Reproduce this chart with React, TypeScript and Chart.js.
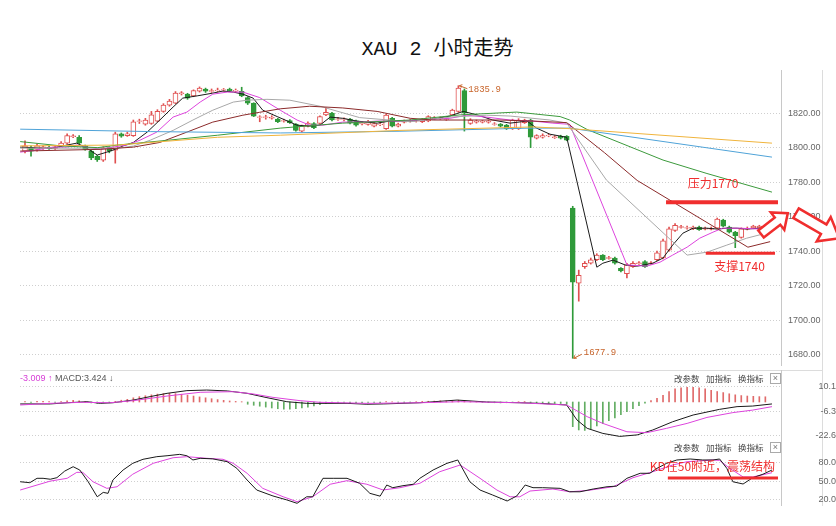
import React, { useEffect, useRef } from 'react';
import { Chart, registerables } from 'chart.js';
Chart.register(...registerables);
Chart.defaults.font.family = '"Liberation Sans", "Noto Sans CJK SC", sans-serif';

// ---------- candles (2h XAU) ----------
const OPEN = [1798,1800,1799,1800,1800.2,1799.6,1801,1802.6,1806.4,1806,1801,1798,1795,1792.8,1800,1798.5,1808,1807,1807,1815.2,1813.6,1814,1815.4,1821,1824.6,1825.8,1831.3,1831,1830,1832.7,1834,1832.6,1833,1833.3,1834,1832.8,1832.7,1829,1825.8,1817.5,1817.5,1817.1,1816.5,1815.3,1815.7,1813.6,1809.6,1812.5,1814,1814,1819,1820,1816.3,1816.3,1816.5,1815.5,1813.8,1813.5,1812.5,1813.3,1811,1817,1812.5,1814.8,1815.3,1815.3,1815,1815.5,1816.8,1816.8,1816.3,1819,1821,1833,1814,1814.8,1814.8,1814.8,1813.4,1813.6,1813,1811,1811,1814.5,1816,1805.5,1806,1806.8,1805.8,1806.7,1806.5,1765,1721.5,1731,1733,1735,1737.7,1735.8,1736,1730,1727,1731,1732.8,1734,1732.8,1735,1736,1740.6,1752,1753.8,1753.3,1753,1754,1752.8,1752.8,1753.3,1758,1754,1751,1748,1752.8,1753.5,1753.5,1753.8];
const CLOSE = [1801,1798,1801,1800.4,1799.6,1800.4,1802.6,1807,1806.8,1802.6,1799,1794,1793,1799.7,1798,1808,1806.7,1808,1815,1815.6,1816,1819,1821,1824.6,1827,1831.6,1831.7,1828.7,1833,1834.5,1832.7,1833,1833.4,1833.7,1833,1833.2,1830,1825.8,1818.3,1817.9,1817.9,1817.5,1815,1815.7,1814.5,1810,1812.5,1814.2,1811.5,1818,1820.5,1816,1816.7,1816.7,1814.2,1813,1814.2,1815,1814,1813.7,1818.8,1812.5,1813.6,1815.2,1815.7,1815.7,1816.5,1818,1817.2,1817.2,1816.7,1821.7,1834.5,1820,1816,1815.2,1815.2,1815.2,1813.8,1812.5,1811,1816,1816,1816,1806,1807,1807,1807.2,1806.2,1805.5,1804.3,1722,1726,1733,1735,1737.7,1735,1736.2,1733,1728.5,1732,1733,1733.2,1731,1733.2,1739,1746,1753,1755,1754.2,1753.7,1754,1752.5,1753.2,1753.2,1758.6,1754.5,1751,1749,1753,1753.2,1754.5,1754.5,1754.2];
const HIGH = [1804,1801,1802,1801,1801,1801,1803.5,1808,1807.5,1807,1801.5,1798.5,1795.5,1800.5,1800.5,1809,1808.5,1809,1816,1816.5,1817,1821,1822,1825.5,1828,1832.5,1832.5,1831.5,1833.5,1835.2,1834.5,1834,1834.5,1834.3,1834.5,1834,1835,1829.5,1826,1818.5,1818.8,1818.5,1817,1816.5,1816.2,1814,1813,1815,1814.5,1818.5,1823,1820.5,1817.5,1817.3,1817,1816,1815,1815.8,1814.5,1814.5,1819.5,1817.5,1814.2,1816,1816.5,1816.3,1817,1818.5,1818,1817.8,1817.5,1822.3,1835.9,1834,1816.8,1816,1815.8,1816,1814.5,1814,1813.5,1816.5,1816.8,1816.5,1816.5,1807.5,1808,1808,1807,1807.2,1807,1766,1729,1734,1736,1738.5,1738,1737,1736.5,1730.5,1733,1734,1734,1734.5,1734,1740,1747,1754,1756,1755,1754.5,1754.5,1754.5,1754,1754,1759.2,1758.5,1754.5,1751.5,1753.5,1754,1755,1755,1755];
const LOW = [1797,1795,1798,1799,1799,1799,1800.5,1802,1805.8,1802,1798.5,1793,1792,1792,1797,1791,1806,1806.5,1806.5,1814,1813,1813.5,1815,1820.5,1824,1825.5,1830.5,1828,1829.5,1832.2,1832,1832,1832.5,1832.8,1832.5,1832.3,1829.5,1825,1818,1815,1816.5,1816.5,1814.5,1814.8,1814,1809.5,1809,1812,1811,1813.5,1818.5,1815.5,1815.8,1815.5,1813.8,1812.5,1813.2,1813,1812,1812.8,1810.5,1812,1812,1814.3,1814.8,1814.8,1814.5,1815,1816.3,1816.3,1815.8,1818.5,1820.5,1809.6,1813.5,1814.2,1814.3,1814.2,1813,1812,1810.5,1810.5,1810.5,1814,1800,1805,1805.5,1806.3,1805.3,1805,1804,1677.9,1711,1730,1732.5,1734.5,1734.5,1735.3,1732.5,1728,1724.5,1730.5,1732.3,1730.5,1732.3,1734.5,1735.5,1740,1751.5,1753.3,1752.8,1752.5,1752,1752.3,1752.3,1753,1754,1750.5,1742,1747.5,1752.3,1753,1753,1753.3];

const PRICE_TICKS = [1680, 1700, 1720, 1740, 1760, 1780, 1800, 1820];

// moving averages: [candle index, price]
const MA5 = [[-0.8,1800.3],[4.2,1799.5],[7,1801.5],[8.6,1802.6],[10,1800.3],[12,1795.7],[13.6,1797.4],[15,1799],[16.3,1801],[18,1803],[20.3,1809],[22.4,1816],[24.6,1823.5],[26.2,1828.7],[28.6,1830],[31.2,1831.6],[32.9,1832.8],[34.6,1832.2],[36.2,1831],[37.9,1828.7],[39.5,1821.7],[41.9,1818],[45.2,1813],[47.3,1812.5],[49,1813],[50.7,1817.7],[52.8,1817],[55.1,1815.4],[58.5,1814.2],[60.6,1815.4],[64,1815.4],[67.8,1816.5],[70.6,1818.3],[72.8,1821],[75.1,1819],[77.7,1816],[80.6,1814.2],[83.4,1815.4],[85,1811.3],[87.2,1807.8],[90,1806],[95,1730.7],[96,1733],[97.7,1734.8],[99.7,1732],[101.7,1731.3],[104.3,1733],[106,1736],[107.6,1743.5],[109.3,1750.4],[111,1753.3],[113.3,1753.3],[115,1752.8],[116.6,1753.3],[118.3,1753.3],[119.9,1752.8],[122.1,1753.3],[123.4,1753.3]];
const MA10 = [[-0.8,1797.4],[1.3,1798.3],[4.7,1800.3],[7,1800.3],[8.6,1801.5],[10.3,1800.3],[12.5,1799.1],[14.6,1800.3],[16.9,1801.5],[19.1,1804.3],[21.9,1809],[24.6,1817.7],[26.9,1820.6],[29.1,1826.4],[31.2,1831],[33.6,1832.2],[36.2,1832.2],[39,1829],[42.4,1821.7],[45.2,1816],[47.3,1813],[49.5,1813],[52.8,1814.8],[56.1,1814.8],[58.5,1815.4],[61.8,1815.4],[65.1,1816],[70.6,1817],[73.4,1818.8],[76.7,1817.7],[80.6,1816],[84.4,1815.4],[87.7,1814.2],[90.5,1813.5],[100,1732],[103.3,1731.3],[105.5,1733.6],[107.6,1737.7],[110,1742.3],[112.1,1747.5],[114.3,1751],[115.9,1753.3],[118.8,1753.3],[122.1,1752.8],[123.8,1753.3]];
const MA20 = [[-0.8,1799.7],[12.5,1799.7],[15.3,1799.7],[18,1800.9],[20.8,1804.3],[24.6,1810],[27.9,1816],[31.2,1821.7],[34.6,1826.4],[36.9,1827.5],[40.2,1828],[44,1827.5],[49,1824],[55.6,1817.4],[64,1815],[70.6,1817.7],[76.7,1818.8],[80.6,1818.3],[87.2,1816],[90,1814.2],[96.6,1781.2],[110,1737.7],[113.3,1739.4],[116.6,1743.5],[119.9,1747.5],[123.8,1751]];
const MA30 = [[-0.8,1798],[12.5,1799],[18,1800.3],[22.4,1803],[26.9,1809],[31.2,1814.8],[36.2,1818.8],[39,1820.5],[42.4,1822.5],[47.3,1824],[52.8,1823],[58.5,1821],[64,1817],[67.8,1816],[73.4,1816],[78.9,1816],[84.4,1815.4],[90,1814.5],[96.3,1797],[101.7,1781],[120.1,1742.3],[123.8,1745.5]];
const MA60 = [[-0.8,1803.5],[6,1801],[12.1,1800],[15.4,1801.5],[23.8,1804.3],[32,1807.2],[42.4,1811.3],[52.8,1814.2],[64,1816],[72.3,1819],[81.7,1820.6],[88.9,1818],[90.5,1816],[93.4,1810.5],[106,1792.8],[113.3,1785],[124.1,1774.2]];
const MA120 = [[-0.8,1810.7],[20.8,1809.3],[42.4,1808.5],[62.3,1809.5],[83.9,1811.3],[90.5,1811.3],[124.1,1794.5]];
const MA250 = [[-0.8,1801],[15.4,1801.5],[32,1806],[42.4,1807.2],[62.3,1810],[84.4,1812],[90.5,1811],[124.1,1802.6]];

const RESISTANCE = 1768.4;
const SUPPORT = 1738.8;

// ---------- MACD ----------
const MACD_HIST = [0.3,-0.3,0.4,0.5,0.3,-0.3,0.3,0.8,1.2,0.8,0.3,-0.6,-0.9,-0.4,-0.5,0.4,
  1.2,1.8,2.8,3.6,4.2,4.8,5.3,5.6,5.8,5.6,5.2,4.6,4.0,3.4,2.8,2.2,1.6,1.1,0.7,0.4,0.2,
  -1.5,-2.2,-2.8,-3.4,-4.0,-4.5,-4.8,-4.8,-4.5,-4.0,-3.4,-2.6,-1.8,-1.0,
  -0.5,-0.4,-0.3,-0.6,-0.5,-0.4,-0.3,-0.2,-0.4,0.3,0.2,-0.2,-0.3,-0.2,0.2,0.4,0.5,0.6,0.8,0.7,0.9,1.2,0.6,0.3,0.2,-0.2,-0.4,-0.5,-0.6,-0.5,-0.3,0.2,0.3,-0.3,-0.8,-1.0,-1.0,-0.9,-1.0,
  -1.5,-16.5,-18.7,-19,-18,-16,-14.5,-12.5,-10.7,-8.5,-6.5,-4.5,-2.5,-0.8,1,2.5,4.5,7,8.8,9.5,9.8,9.8,9.5,8.8,7.8,7,6.3,5.5,4.8,4.3,4,3.8,3.6,3.5];
const DIF = [[-0.8,-1.3],[4.2,-1.3],[7,-0.5],[10.3,0.2],[12.5,-0.9],[14.6,-0.5],[18,1.3],[20.8,3.6],[23.6,5.8],[26.9,7.6],[30.2,8],[33.6,7.4],[36.9,5.8],[40.2,2.9],[43.5,0.2],[46.8,-0.9],[53.5,-0.9],[56.8,-1.5],[59.5,-1.3],[65.6,-0.5],[71.8,1.3],[76.7,0],[82.2,-0.5],[85.5,-0.9],[90,-2],[91.7,-12],[93.4,-17.6],[96,-21],[98.8,-23],[101.7,-22],[104.3,-18.7],[107.6,-13.2],[111,-8.7],[115.4,-4.9],[118.3,-3.1],[120.9,-2.7],[124.1,-1.3]];
const DEA = [[-0.8,-2],[4.2,-0.9],[9.6,-0.2],[14.1,-0.5],[18,0.9],[23.6,4],[29.1,6.5],[34.6,6.9],[37.9,5.4],[41.2,3.1],[45.7,0.9],[49,-0.2],[56.8,-0.9],[65.6,-0.5],[72.3,0.2],[82.2,-0.5],[90,-2],[93.4,-9.8],[96,-14.3],[100,-19.9],[103.3,-20.5],[106.6,-17.6],[110,-14.3],[113.3,-10.3],[117.6,-7.1],[120.9,-5.4],[124.1,-3.1]];
const MACD_TICKS = [10.1, -6.3, -22.6];

// ---------- KD ----------
const K_LINE = [[-0.8,49],[0.8,47.5],[2,54.5],[3,54.5],[4.2,53],[5.3,55.5],[6.6,66],[8,73],[9.1,67.7],[10.5,49],[12,25],[13,32],[13.8,30.5],[14.6,51.8],[16.3,67.7],[17.9,78.4],[19.6,84.8],[21.9,89],[23.6,90.5],[25.7,92.7],[26.9,90.5],[27.9,83.7],[29.1,86.4],[31.2,85.5],[33.6,81],[35.2,70.4],[36.9,51.8],[38.5,35.8],[41.2,26.3],[43.5,20],[45.2,14.6],[46.8,25],[47.8,25],[49.5,54.5],[51.2,54.5],[53.5,54.5],[55.6,46.5],[57.3,30.5],[59,26],[60.1,43.8],[61.1,39.5],[62.8,42.7],[64.5,45],[65.6,54.5],[67.8,67.7],[70.1,78.4],[71.9,83.7],[73.9,49],[75.6,35.8],[77.7,27.8],[80.1,18.3],[81.7,26.3],[83.1,43.8],[84.4,39.5],[86,39.5],[88.9,38.5],[90.5,33],[92.2,33],[94.4,37.4],[96.7,41],[98.3,42],[100,54.5],[102.2,62.5],[103.8,62.5],[105,70.4],[106.6,78.4],[108.3,83.7],[110.5,85.3],[112.6,83.7],[114.3,83.7],[115.4,85.3],[116.6,70.4],[117.6,49],[119.3,45.4],[120.9,55.4],[122.6,61],[124.1,67.7]];
const D_LINE = [[-0.8,35.8],[4.2,50],[7,54.5],[8.6,64],[9.6,64],[11.3,49],[13.6,38.5],[15.3,41],[17.9,61],[21.3,78.4],[24.6,87.3],[26.9,89],[30.2,86.4],[32.9,84.8],[34.6,78.4],[36.9,62.5],[39.5,38.5],[42.9,25],[45.2,17.2],[47.8,25],[50.7,45],[53.5,50.7],[56.8,45],[59.5,35.8],[62.3,39.5],[65.6,46.5],[68.9,65],[72.3,75.7],[75.6,54.5],[78.4,35.8],[80.6,25],[82.2,25],[83.9,34.2],[87.7,37.4],[90.5,33],[93.4,35],[97.7,41],[101,55.4],[104.3,65],[107.6,75.7],[110,81],[114.3,83.7],[115.4,83],[117.1,70.4],[119.3,56.6],[120.9,56.6],[124.1,63.4]];
const KD_TICKS = [80, 50, 20];
const KD_LEVEL = 55;

// ---------- styling ----------
const X_MIN = -0.83;
const X_MAX = 125.6;
const RED = '#e05050';
const GREEN = '#2f9a3a';
const ANNO = '#f02e2e';
const AXIS_W = 55;

const pts = (arr) => arr.map(([x, y]) => ({ x, y }));

const xScale = () => ({
  type: 'linear', min: X_MIN, max: X_MAX, offset: false, display: false,
  afterBuildTicks: (a) => { a.ticks = [{ value: 0 }]; },
});

const yScale = (min, max, ticks, fmt, align, pad) => ({
  type: 'linear', position: 'right', min, max,
  afterBuildTicks: (a) => { a.ticks = ticks.map((v) => ({ value: v })); },
  afterFit: (a) => { a.width = AXIS_W; },
  grid: { color: '#cfcfcf', drawTicks: false, lineWidth: 1 },
  border: { display: true, color: '#c8c8c8', width: 1, dash: [1, 2] },
  ticks: { color: '#666', font: { size: 9, family: '"Liberation Sans"' }, padding: pad, crossAlign: align, callback: fmt },
});

const baseOpts = (padTop, padBottom, y) => ({
  responsive: false, animation: false, devicePixelRatio: 1, events: [],
  layout: { padding: { top: padTop, bottom: padBottom, left: 20, right: 0 } },
  plugins: { legend: { display: false }, tooltip: { enabled: false }, title: { display: false } },
  scales: { x: xScale(), y },
});

const line = (data, color, width = 1, order = 1) => ({
  type: 'line', data: pts(data), borderColor: color, borderWidth: width, pointRadius: 0,
  fill: false, tension: 0, order,
});

function blockArrow(ctx, x0, y0, deg, len, shaftW, headW, headLen) {
  const a = (deg * Math.PI) / 180;
  ctx.save();
  ctx.translate(x0, y0);
  ctx.rotate(a);
  ctx.beginPath();
  ctx.moveTo(0, -shaftW / 2);
  ctx.lineTo(len - headLen, -shaftW / 2);
  ctx.lineTo(len - headLen, -headW / 2);
  ctx.lineTo(len, 0);
  ctx.lineTo(len - headLen, headW / 2);
  ctx.lineTo(len - headLen, shaftW / 2);
  ctx.lineTo(0, shaftW / 2);
  ctx.closePath();
  ctx.fillStyle = '#fff';
  ctx.fill();
  ctx.strokeStyle = ANNO;
  ctx.lineWidth = 2.5;
  ctx.lineJoin = 'miter';
  ctx.stroke();
  ctx.restore();
}

const mainPlugin = {
  id: 'mainAnno',
  afterDraw(chart) {
    const { ctx, chartArea: ca } = chart;
    const xs = chart.scales.x;
    const ys = chart.scales.y;
    ctx.save();
    const hiI = HIGH.indexOf(Math.max(...HIGH));
    const loI = LOW.indexOf(Math.min(...LOW));
    const hx = xs.getPixelForValue(hiI), hy = ys.getPixelForValue(HIGH[hiI]);
    const lx = xs.getPixelForValue(loI), ly = ys.getPixelForValue(LOW[loI]);
    ctx.strokeStyle = '#c8642a';
    ctx.fillStyle = '#c8642a';
    ctx.lineWidth = 1;
    ctx.beginPath(); ctx.moveTo(hx + 1, hy); ctx.lineTo(hx + 9, hy + 3); ctx.stroke();
    ctx.beginPath(); ctx.moveTo(hx + 1, hy); ctx.lineTo(hx + 4, hy - 1); ctx.moveTo(hx + 1, hy); ctx.lineTo(hx + 3, hy + 2); ctx.stroke();
    ctx.beginPath(); ctx.moveTo(lx + 1, ly); ctx.lineTo(lx + 9, ly - 4); ctx.stroke();
    ctx.beginPath(); ctx.moveTo(lx + 1, ly); ctx.lineTo(lx + 4, ly); ctx.moveTo(lx + 1, ly); ctx.lineTo(lx + 2, ly - 3); ctx.stroke();
    ctx.font = '9px "Liberation Mono"';
    ctx.textBaseline = 'middle';
    ctx.textAlign = 'left';
    ctx.fillText(HIGH[hiI].toFixed(1), hx + 10, hy + 4);
    ctx.fillText(LOW[loI].toFixed(1), lx + 11, ly - 6);
    ctx.font = '12px "Noto Sans CJK SC"';
    ctx.fillStyle = ANNO;
    ctx.fillText('压力1770', xs.getPixelForValue(110.1), ys.getPixelForValue(1779.4));
    ctx.fillText('支撑1740', xs.getPixelForValue(114.5), ys.getPixelForValue(1731.3));
    blockArrow(ctx, ca.right - 20, ys.getPixelForValue(1749.9), -38, 34, 9, 22, 13);
    blockArrow(ctx, ca.right + 15, ys.getPixelForValue(1762), 30, 50, 11, 28, 18);
    ctx.restore();
  },
};

const kdPlugin = {
  id: 'kdAnno',
  afterDraw(chart) {
    const { ctx } = chart;
    const xs = chart.scales.x;
    const ys = chart.scales.y;
    ctx.save();
    ctx.font = '12px "Noto Sans CJK SC"';
    ctx.fillStyle = ANNO;
    ctx.textBaseline = 'middle';
    ctx.fillText('KD在50附近，震荡结构', xs.getPixelForValue(103.8), ys.getPixelForValue(74.1));
    ctx.restore();
  },
};

function mainConfig() {
  const idx = OPEN.map((_, i) => i);
  const up = idx.map((i) => CLOSE[i] >= OPEN[i]);
  return {
    type: 'bar',
    data: {
      datasets: [
        line([[106.5, RESISTANCE], [125.1, RESISTANCE]], ANNO, 4, -1),
        line([[113.1, SUPPORT], [124.6, SUPPORT]], ANNO, 3, -1),
        line(MA250, '#f0b43c'),
        line(MA120, '#4fa3d8'),
        line(MA60, '#3c9a3c'),
        line(MA30, '#8b2a2a'),
        line(MA20, '#a8a8a8'),
        line(MA10, '#dd44dd'),
        line(MA5, '#1a1a1a'),
        {
          type: 'bar', order: 2, grouped: false,
          data: idx.map((i) => ({ x: i, y: [Math.min(OPEN[i], CLOSE[i]), Math.max(OPEN[i], CLOSE[i])] })),
          backgroundColor: up.map((u) => (u ? '#ffffff' : GREEN)),
          borderColor: up.map((u) => (u ? RED : GREEN)),
          borderWidth: 1, borderSkipped: false,
          barPercentage: 1, categoryPercentage: 1, maxBarThickness: 5,
        },
        {
          type: 'bar', order: 3, grouped: false,
          data: idx.map((i) => ({ x: i, y: [LOW[i], HIGH[i]] })),
          backgroundColor: up.map((u) => (u ? RED : GREEN)),
          borderWidth: 0,
          barPercentage: 1, categoryPercentage: 1, maxBarThickness: 1,
        },
      ],
    },
    options: baseOpts(70, 20, yScale(1674, 1845, PRICE_TICKS, (v) => Number(v).toFixed(2), 'near', 7)),
    plugins: [mainPlugin],
  };
}

function macdConfig() {
  return {
    type: 'bar',
    data: {
      datasets: [
        line(DEA, '#dd44dd', 1, 0),
        line(DIF, '#1a1a1a', 1, 0),
        {
          type: 'bar', order: 2, grouped: false,
          data: MACD_HIST.map((v, i) => ({ x: i, y: v })),
          backgroundColor: MACD_HIST.map((v) => (v >= 0 ? '#e06a6a' : '#62ad62')),
          borderWidth: 0, barPercentage: 1, categoryPercentage: 1, maxBarThickness: 1,
        },
      ],
    },
    options: baseOpts(30, 30, yScale(-23.4, 21.4, MACD_TICKS, (v) => String(v), 'far', 15)),
  };
}

function kdConfig() {
  return {
    type: 'line',
    data: {
      datasets: [
        line([[106.8, KD_LEVEL], [125.1, KD_LEVEL]], ANNO, 3, -1),
        line(D_LINE, '#dd44dd', 1, 1),
        line(K_LINE, '#1a1a1a', 1, 0),
      ],
    },
    options: baseOpts(30, 30, yScale(11.9, 118.8, KD_TICKS, (v) => Number(v).toFixed(1), 'far', 15)),
    plugins: [kdPlugin],
  };
}

function ChartCanvas({ top, height, make }) {
  const ref = useRef(null);
  useEffect(() => {
    const chart = new Chart(ref.current, make());
    return () => chart.destroy();
  }, []);
  return (
    <canvas ref={ref} width={836} height={height}
      style={{ position: 'absolute', left: 0, top, width: 836, height }} />
  );
}

const small = { position: 'absolute', font: '8.5px "Noto Sans CJK SC"', color: '#444', lineHeight: '10px', whiteSpace: 'nowrap' } as React.CSSProperties;

function PanelHeader({ top }) {
  return (
    <>
      <div style={{ ...small, left: 674, top }}>改参数</div>
      <div style={{ ...small, left: 706, top }}>加指标</div>
      <div style={{ ...small, left: 738, top }}>换指标</div>
      <div style={{ position: 'absolute', left: 770, top: top, width: 9, height: 9, border: '1px solid #aaa', font: '9px "Liberation Sans"', lineHeight: '9px', textAlign: 'center', color: '#777', background: '#fff' }}>×</div>
    </>
  );
}

export default function App() {
  return (
    <div style={{ position: 'absolute', left: 0, top: 0, width: 836, height: 526, background: '#fff', overflow: 'hidden' }}>
      <div style={{ position: 'absolute', left: 0, top: 38, width: 875, textAlign: 'center', font: '20px "Liberation Mono", "Noto Sans CJK SC"', lineHeight: '24px', color: '#111' }}>
        XAU 2 小时走势
      </div>
      <div style={{ position: 'absolute', left: 20, top: 370, width: 803, height: 1, background: '#dcdcdc' }} />
      <div style={{ position: 'absolute', left: 822, top: 70, width: 1, height: 436, background: '#dcdcdc' }} />
      {/* main: chart area 70..365 */}
      <ChartCanvas top={0} height={385} make={mainConfig} />
      {/* MACD: chart area 370..437 */}
      <ChartCanvas top={340} height={127} make={macdConfig} />
      {/* KD: chart area 438..505 */}
      <ChartCanvas top={408} height={127} make={kdConfig} />
      <div style={{ position: 'absolute', left: 20, top: 373, font: '9px "Liberation Sans"', lineHeight: '10px', whiteSpace: 'pre' }}>
        <span style={{ color: '#d63cd6' }}>-3.009 ↑</span>
        <span style={{ color: '#555' }}> MACD:3.424 ↓</span>
      </div>
      <PanelHeader top={373} />
      <PanelHeader top={442} />
    </div>
  );
}
